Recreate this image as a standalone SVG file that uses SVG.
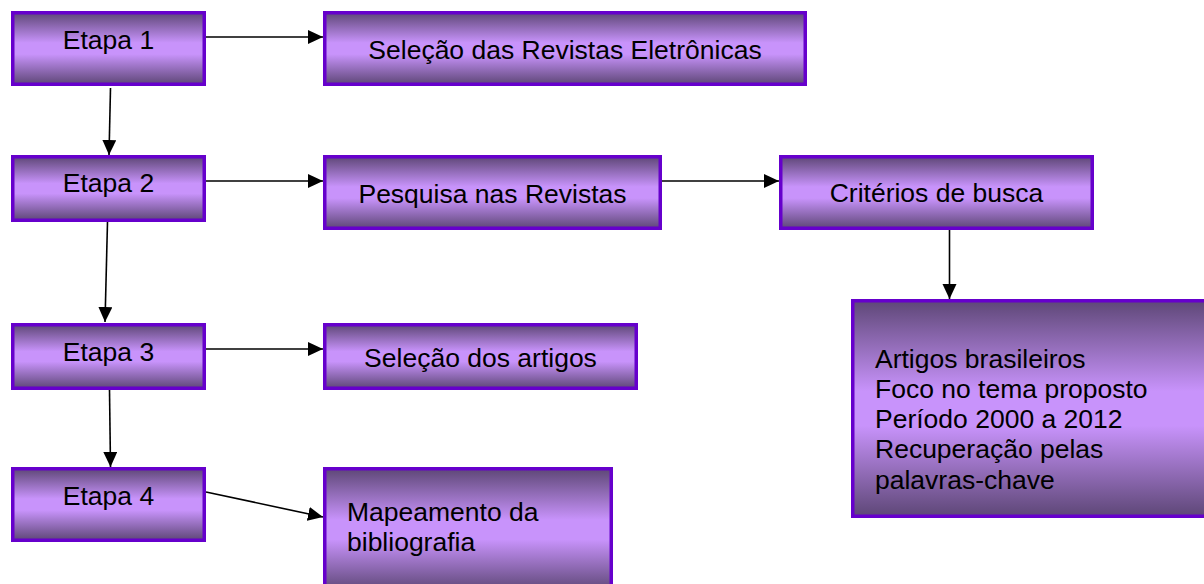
<svg xmlns="http://www.w3.org/2000/svg" width="1204" height="584" viewBox="0 0 1204 584">
  <defs>
    <linearGradient id="g" x1="0" y1="0" x2="0" y2="1">
      <stop offset="0" stop-color="#5e4777"/>
      <stop offset="0.42" stop-color="#c893fb"/>
      <stop offset="0.58" stop-color="#c893fb"/>
      <stop offset="1" stop-color="#5e4777"/>
    </linearGradient>
    <marker id="arr" markerUnits="userSpaceOnUse" markerWidth="16" markerHeight="15" refX="15" refY="7" orient="auto">
      <path d="M0,0 L15,7 L0,14 Z" fill="#000"/>
    </marker>
  </defs>
  <style>
    .box { fill: url(#g); stroke: #6600cc; stroke-width: 3.5; }
    .t { font-family: "Liberation Sans", Arial, sans-serif; font-size: 26.5px; fill: #000; }
    .c { text-anchor: middle; }
    .conn line { stroke: #000; stroke-width: 1.6; marker-end: url(#arr); }
  </style>
  <rect width="1204" height="584" fill="#fff"/>

  <g id="conn" class="conn">
    <line x1="206" y1="37" x2="323" y2="37"/>
    <line x1="110.5" y1="88" x2="109" y2="155"/>
    <line x1="206" y1="181" x2="323" y2="181"/>
    <line x1="662" y1="181" x2="779" y2="181"/>
    <line x1="949.5" y1="230" x2="949.5" y2="299"/>
    <line x1="107.5" y1="222" x2="105" y2="322"/>
    <line x1="206" y1="349" x2="323" y2="349"/>
    <line x1="109.5" y1="390" x2="110.5" y2="467"/>
    <line x1="206" y1="492" x2="323" y2="517"/>
  </g>

  <g id="etapa1">
    <rect class="box" x="12.75" y="12.75" width="191.5" height="71.5"/>
    <text class="t c" x="108.5" y="49.3">Etapa 1</text>
  </g>
  <g id="selecao-revistas">
    <rect class="box" x="324.75" y="12.75" width="480.5" height="71.5"/>
    <text class="t c" x="565" y="59">Seleção das Revistas Eletrônicas</text>
  </g>
  <g id="etapa2">
    <rect class="box" x="12.75" y="156.75" width="191.5" height="63.5"/>
    <text class="t c" x="108.5" y="192">Etapa 2</text>
  </g>
  <g id="pesquisa">
    <rect class="box" x="324.75" y="156.75" width="335.5" height="71.5"/>
    <text class="t c" x="492.5" y="203">Pesquisa nas Revistas</text>
  </g>
  <g id="criterios">
    <rect class="box" x="780.75" y="156.75" width="311.5" height="71.5"/>
    <text class="t c" x="936.5" y="202.3">Critérios de busca</text>
  </g>
  <g id="criterios-lista">
    <rect class="box" x="852.75" y="300.75" width="360" height="215.5"/>
    <text class="t" x="875" y="367.7">Artigos brasileiros</text>
    <text class="t" x="875" y="398">Foco no tema proposto</text>
    <text class="t" x="875" y="428.3">Período 2000 a 2012</text>
    <text class="t" x="875" y="458.3">Recuperação pelas</text>
    <text class="t" x="875" y="489">palavras-chave</text>
  </g>
  <g id="etapa3">
    <rect class="box" x="12.75" y="324.75" width="191.5" height="63.5"/>
    <text class="t c" x="108.5" y="360.5">Etapa 3</text>
  </g>
  <g id="selecao-artigos">
    <rect class="box" x="324.75" y="324.75" width="311.5" height="63.5"/>
    <text class="t c" x="480.5" y="366.7">Seleção dos artigos</text>
  </g>
  <g id="etapa4">
    <rect class="box" x="12.75" y="468.75" width="191.5" height="71.5"/>
    <text class="t c" x="108.5" y="505">Etapa 4</text>
  </g>
  <g id="mapeamento">
    <rect class="box" x="324.75" y="468.75" width="286.5" height="122"/>
    <text class="t" x="347" y="521">Mapeamento da</text>
    <text class="t" x="347" y="551">bibliografia</text>
  </g>
</svg>
